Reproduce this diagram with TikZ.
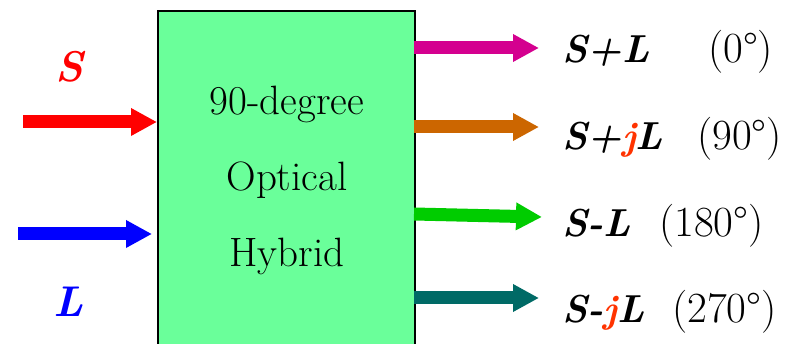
\documentclass[tikz,border=0pt]{standalone}
\usepackage{fontspec}
\usetikzlibrary{arrows.meta}
\definecolor{boxgreen}{HTML}{6AFF9A}
\definecolor{cmag}{HTML}{D4008F}
\definecolor{corange}{HTML}{CC6600}
\definecolor{cgreen}{HTML}{00CC00}
\definecolor{cteal}{HTML}{006A66}
\definecolor{cj}{HTML}{FF3300}
\tikzset{
  fatarrow/.style={line width=13pt, line cap=butt, -{Triangle[length=26pt,width=26pt]}},
  boxtxt/.style={anchor=base, inner sep=0pt, font=\fontsize{41}{50}\selectfont},
  lbl/.style={anchor=base west, inner sep=0pt, font=\fontsize{43}{52}\selectfont},
  blbl/.style={anchor=base west, inner sep=0pt, font=\fontsize{39}{48}\selectfont\bfseries\itshape},
  inlbl/.style={anchor=base, inner sep=0pt, font=\fontsize{43}{52}\selectfont\bfseries\itshape},
}
\newcommand{\jj}{\textcolor{cj}{j}}
\begin{document}
\begin{tikzpicture}[x=1pt,y=-1pt]
\clip (0,0) rectangle (806,344);
\fill[white] (0,0) rectangle (806,344);
\node[draw=black, line width=2pt, fill=boxgreen, rectangle, anchor=north west,
      minimum width=257pt, minimum height=380pt, inner sep=0pt] (box) at (157,10) {};
\node[boxtxt] (t1) at (287,115) {90-degree};
\node[boxtxt] (t2) at (287,191) {Optical};
\node[boxtxt] (t3) at (287,267) {Hybrid};
% inputs
\node[inlbl, text=red] (slab) at (69,82) {S};
\node[inlbl, text=blue] (llab) at (69,317) {L};
\coordinate (sin) at (23,122);
\coordinate (send) at (157,122);
\coordinate (lin) at (18,234);
\coordinate (lend) at (152,234);
\draw[fatarrow, red] (sin) -- (send);
\draw[fatarrow, blue] (lin) -- (lend);
% outputs
\coordinate (o1s) at (414,48);  \coordinate (o1e) at (539,48);
\coordinate (o2s) at (414,127); \coordinate (o2e) at (539,127);
\coordinate (o3s) at (414,214); \coordinate (o3e) at (542,217);
\coordinate (o4s) at (414,298); \coordinate (o4e) at (539,298);
\draw[fatarrow, cmag] (o1s) -- (o1e);
\draw[fatarrow, corange] (o2s) -- (o2e);
\draw[fatarrow, cgreen] (o3s) -- (o3e);
\draw[fatarrow, cteal] (o4s) -- (o4e);
\node[blbl] (a1) at (562,63) {S+L};
\node[lbl] (b1) at (708,63) {(0°)};
\node[blbl] (a2) at (562,150) {S+\jj L};
\node[lbl] (b2) at (697,150) {(90°)};
\node[blbl] (a3) at (562,237) {S-L};
\node[lbl] (b3) at (659,237) {(180°)};
\node[blbl] (a4) at (562,323) {S-\jj L};
\node[lbl] (b4) at (672,323) {(270°)};
\end{tikzpicture}
\end{document}
